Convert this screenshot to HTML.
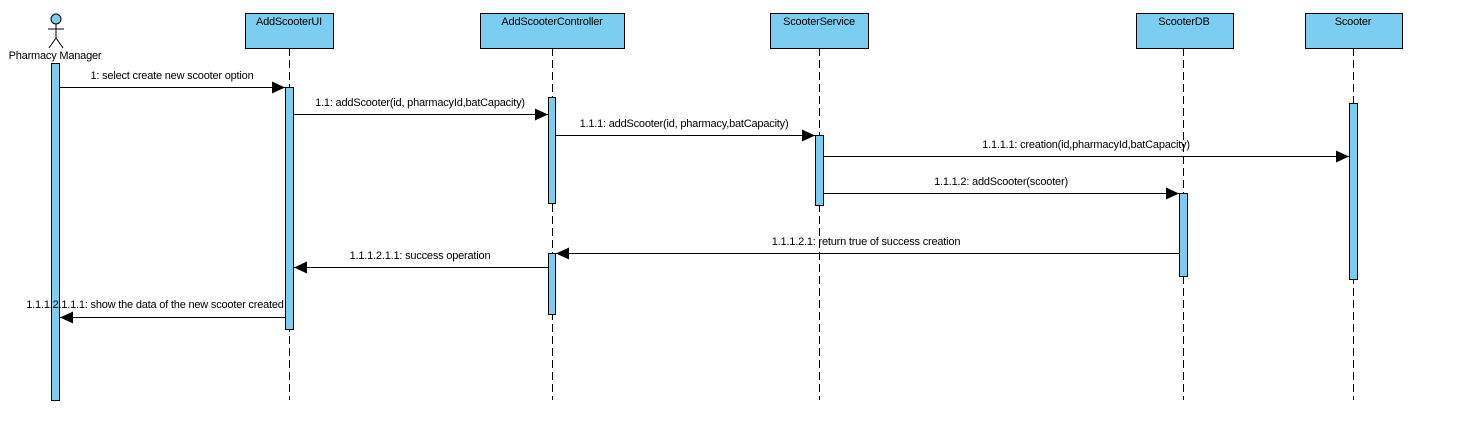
<!DOCTYPE html>
<html><head><style>
body{margin:0;background:#fff;}
svg{display:block;font-family:"Liberation Sans",Arial,sans-serif;font-size:11px;letter-spacing:-0.2px;}
</style></head><body>
<svg width="1484" height="447" viewBox="0 0 1484 447" xmlns="http://www.w3.org/2000/svg">
<defs>
<marker id="a" markerWidth="14" markerHeight="12" refX="13" refY="6" orient="auto" markerUnits="userSpaceOnUse">
<path d="M0,0 L13,6 L0,12 z" fill="#000"/>
</marker>
</defs>
<g fill="#7ccdf2" stroke="#000" stroke-width="1">
<rect x="245.5" y="13.5" width="88" height="35"/>
<rect x="480.5" y="13.5" width="144" height="35"/>
<rect x="770.5" y="13.5" width="98" height="35"/>
<rect x="1136.5" y="13.5" width="97" height="35"/>
<rect x="1305.5" y="13.5" width="97" height="35"/>
</g>
<g text-anchor="middle" fill="#000">
<text x="289" y="25">AddScooterUI</text>
<text x="552" y="25">AddScooterController</text>
<text x="819" y="25">ScooterService</text>
<text x="1184" y="25">ScooterDB</text>
<text x="1353" y="25">Scooter</text>
</g>
<g stroke="#000" stroke-dasharray="8,4" stroke-width="1">
<line x1="289.5" y1="48" x2="289.5" y2="400"/>
<line x1="552.5" y1="48" x2="552.5" y2="400"/>
<line x1="819.5" y1="48" x2="819.5" y2="400"/>
<line x1="1183.5" y1="48" x2="1183.5" y2="400"/>
<line x1="1353.5" y1="48" x2="1353.5" y2="400"/>
</g>
<g stroke="#000" fill="none">
<circle cx="56" cy="19" r="5" fill="#7ccdf2"/>
<line x1="56" y1="24" x2="56" y2="38"/>
<line x1="48" y1="29" x2="64" y2="29"/>
<line x1="56" y1="38" x2="49" y2="48"/>
<line x1="56" y1="38" x2="63" y2="48"/>
</g>
<text x="55" y="59" text-anchor="middle">Pharmacy Manager</text>
<g fill="#7ccdf2" stroke="#000">
<rect x="51.5" y="63.5" width="8" height="337"/>
<rect x="285.5" y="87.5" width="8" height="242"/>
<rect x="548.5" y="97.5" width="7" height="106"/>
<rect x="548.5" y="253.5" width="7" height="61"/>
<rect x="815.5" y="135.5" width="8" height="70"/>
<rect x="1179.5" y="193.5" width="8" height="83"/>
<rect x="1349.5" y="103.5" width="8" height="176"/>
</g>
<g stroke="#000" marker-end="url(#a)">
<line x1="60" y1="87.5" x2="285" y2="87.5"/>
<line x1="294" y1="114.5" x2="548" y2="114.5"/>
<line x1="556" y1="135.5" x2="815" y2="135.5"/>
<line x1="824" y1="156.5" x2="1349" y2="156.5"/>
<line x1="824" y1="193.5" x2="1179" y2="193.5"/>
<line x1="1179" y1="253.5" x2="556" y2="253.5"/>
<line x1="548" y1="267.5" x2="294" y2="267.5"/>
<line x1="285" y1="317.5" x2="60" y2="317.5"/>
</g>
<g text-anchor="middle">
<text x="172" y="79">1: select create new scooter option</text>
<text x="420" y="106">1.1: addScooter(id, pharmacyId,batCapacity)</text>
<text x="684" y="127">1.1.1: addScooter(id, pharmacy,batCapacity)</text>
<text x="1086" y="148">1.1.1.1: creation(id,pharmacyId,batCapacity)</text>
<text x="1001" y="185">1.1.1.2: addScooter(scooter)</text>
<text x="866" y="245">1.1.1.2.1: return true of success creation</text>
<text x="420" y="259">1.1.1.2.1.1: success operation</text>
<text x="155" y="308">1.1.1.2.1.1.1: show the data of the new scooter created</text>
</g>
</svg>
</body></html>
